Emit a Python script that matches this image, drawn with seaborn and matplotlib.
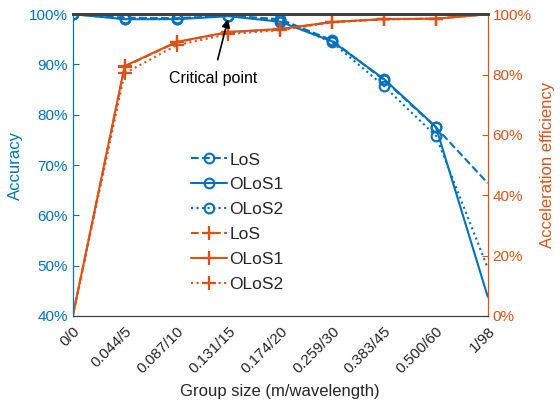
import numpy as np
import matplotlib
matplotlib.use('Agg')
import matplotlib.pyplot as plt
import seaborn as sns
from matplotlib.ticker import PercentFormatter

# ------------ data ----------------------------------
group_labels = ['0/0', '0.044/5', '0.087/10', '0.131/15', '0.174/20',
                '0.259/30', '0.383/45', '0.500/60', '1/98']
acc_los = [100, 99.3, 99.2, 99.7, 99.0, 94.8, 86.9, 77.5, 66.4]
acc_olos1 = [100, 99.0, 99.0, 99.6, 98.5, 94.6, 87.1, 77.6, 43.8]
acc_olos2 = [100, 99.1, 99.1, 99.7, 98.8, 94.4, 85.7, 75.8, 49.5]
eff_los = [0, 82.6, 90.7, 94.0, 95.0, 97.4, 98.3, 98.5, 100]
eff_olos1 = [0, 82.8, 90.8, 94.1, 95.1, 97.4, 98.4, 98.5, 100]
eff_olos2 = [0, 80.4, 89.7, 93.4, 94.7, 97.3, 98.3, 98.5, 100]

BLUE = '#0072BD'
ORANGE = '#D95319'
TEXT = '#262626'

sns.set_style('white')
plt.rcParams['font.family'] = ['Liberation Sans', 'DejaVu Sans']

x = np.arange(len(group_labels))
fig = plt.figure(figsize=(5.6, 4.05), dpi=100)
ax = fig.add_axes([0.130, 0.220, 0.741, 0.745])
ax2 = ax.twinx()

styles = [('--', 'LoS'), ('-', 'OLoS1'), (':', 'OLoS2')]
handles = []
for (ls, name), vals in zip(styles, [acc_los, acc_olos1, acc_olos2]):
    sns.lineplot(x=x, y=vals, ax=ax, color=BLUE, linestyle=ls, linewidth=1.5,
                 marker='o', markersize=7, mfc='none', mec=BLUE, mew=1.5,
                 markevery=list(range(0, 8)), label=name, legend=False)
    handles.append(ax.get_lines()[-1])
for (ls, name), vals in zip(styles, [eff_los, eff_olos1, eff_olos2]):
    sns.lineplot(x=x, y=vals, ax=ax2, color=ORANGE, linestyle=ls, linewidth=1.5,
                 marker='+', markersize=10, mec=ORANGE, mew=1.6,
                 markevery=list(range(1, 8)), label=name, legend=False)
    handles.append(ax2.get_lines()[-1])

ax.set_xlim(0, 8)
ax.set_ylim(40, 100)
ax2.set_ylim(0, 100)
ax.set_xticks(x)
ax.set_xticklabels(group_labels, rotation=45, ha='right', rotation_mode='anchor',
                   fontsize=11, color=TEXT)
ax.set_yticks(np.arange(40, 101, 10))
ax2.set_yticks(np.arange(0, 101, 20))
ax.yaxis.set_major_formatter(PercentFormatter(decimals=0))
ax2.yaxis.set_major_formatter(PercentFormatter(decimals=0))

ax.tick_params(axis='x', direction='in', length=4, color='#404040', pad=6)
ax.tick_params(axis='y', direction='in', length=4, colors=BLUE, labelsize=11)
ax2.tick_params(axis='y', direction='in', length=4, colors=ORANGE, labelsize=11)

for a in (ax, ax2):
    a.spines['bottom'].set_color('#404040')
    a.spines['top'].set_color('#404040')
    a.spines['top'].set_linewidth(2)
    a.spines['left'].set_color(BLUE)
    a.spines['right'].set_color(ORANGE)

ax.set_xlabel('Group size (m/wavelength)', fontsize=12, color=TEXT, labelpad=6)
ax.set_ylabel('Accuracy', fontsize=12, color=BLUE, labelpad=4)
ax2.set_ylabel('Acceleration efficiency', fontsize=12, color=ORANGE, labelpad=6)

ax2.annotate('Critical point', xy=(3, 99.3), xycoords=ax.transData,
             xytext=(2.7, 87.2), textcoords=ax.transData,
             ha='center', va='center', fontsize=11.5, color='black',
             arrowprops=dict(arrowstyle='-|>', color='black', lw=1.2,
                             shrinkA=6, shrinkB=1, mutation_scale=12))

ax2.legend(handles=handles, loc='upper left', bbox_to_anchor=(0.267, 0.565),
           frameon=False, fontsize=12.5, handlelength=2.1, handletextpad=0.15,
           labelspacing=0.56, labelcolor=TEXT, borderaxespad=0)

fig.savefig('out.png', dpi=100)
